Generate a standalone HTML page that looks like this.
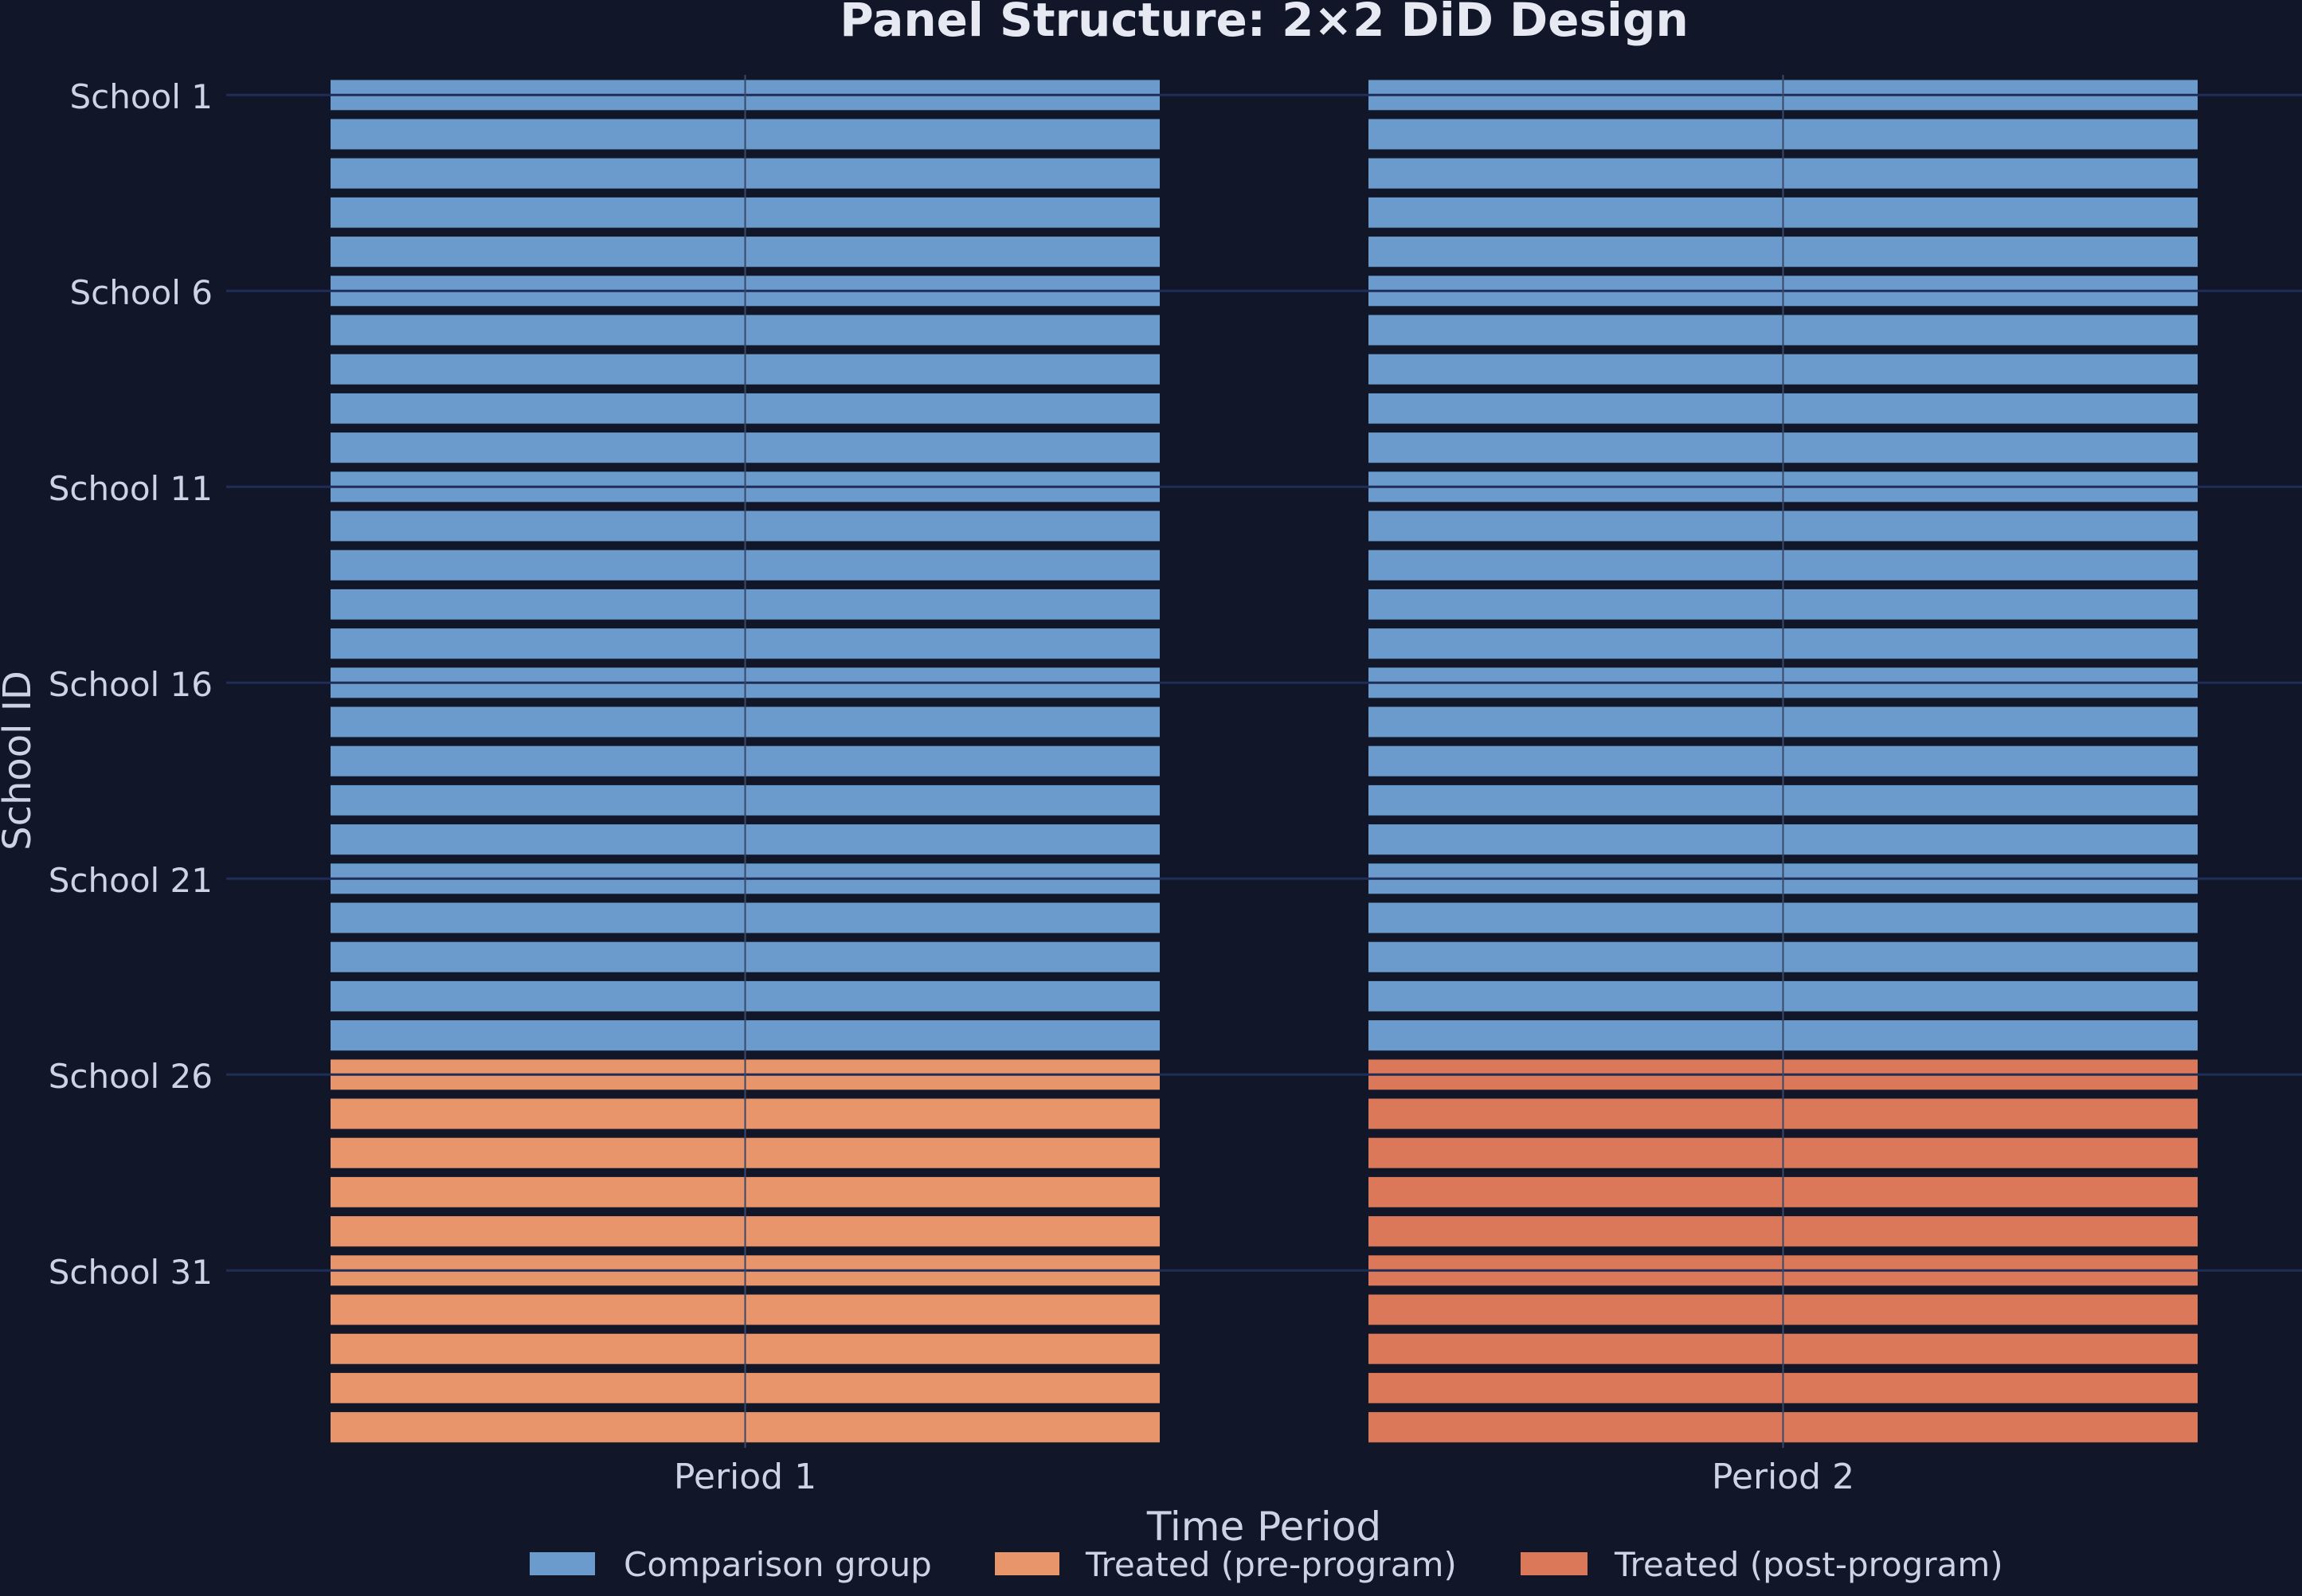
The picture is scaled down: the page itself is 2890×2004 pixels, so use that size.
<!DOCTYPE html>
<html><head><meta charset="utf-8"><style>
html,body{margin:0;padding:0;background:#111729;}
svg{display:block;}
text{font-family:"DejaVu Sans","Liberation Sans",sans-serif;fill:#cdd3e2;}
</style></head><body>
<svg width="2890" height="2004" viewBox="0 0 2890 2004" xmlns="http://www.w3.org/2000/svg">
<defs>
<pattern id="pb" patternUnits="userSpaceOnUse" x="0" y="100.3" width="2890" height="49.2"><rect x="0" y="0" width="2890" height="38" fill="#6b9bcc"/></pattern>
<pattern id="po" patternUnits="userSpaceOnUse" x="0" y="100.3" width="2890" height="49.2"><rect x="0" y="0" width="2890" height="38" fill="#e8956b"/></pattern>
<pattern id="pr" patternUnits="userSpaceOnUse" x="0" y="100.3" width="2890" height="49.2"><rect x="0" y="0" width="2890" height="38" fill="#db785a"/></pattern>
</defs>
<rect width="2890" height="2004" fill="#111729"/>
<text x="1587" y="45" text-anchor="middle" font-size="58" font-weight="bold" style="fill:#e6e9f2">Panel Structure: 2×2 DiD Design</text>
<rect x="415" y="100.3" width="1041" height="1229" fill="url(#pb)"/>
<rect x="1718" y="100.3" width="1041" height="1229" fill="url(#pb)"/>
<rect x="415" y="1330.3" width="1041" height="482" fill="url(#po)"/>
<rect x="1718" y="1330.3" width="1041" height="482" fill="url(#pr)"/>
<g stroke="#1f2e58" stroke-width="3">
<line x1="284" y1="119.3" x2="2890" y2="119.3"/>
<line x1="284" y1="365.3" x2="2890" y2="365.3"/>
<line x1="284" y1="611.3" x2="2890" y2="611.3"/>
<line x1="284" y1="857.3" x2="2890" y2="857.3"/>
<line x1="284" y1="1103.3" x2="2890" y2="1103.3"/>
<line x1="284" y1="1349.3" x2="2890" y2="1349.3"/>
<line x1="284" y1="1595.3" x2="2890" y2="1595.3"/>
</g>
<g stroke="#3a4868" stroke-width="2">
<line x1="935.5" y1="94" x2="935.5" y2="1818"/>
<line x1="2238.5" y1="94" x2="2238.5" y2="1818"/>
</g>
<g font-size="42" text-anchor="end">
<text x="267" y="136">School 1</text>
<text x="267" y="382">School 6</text>
<text x="267" y="628">School 11</text>
<text x="267" y="874">School 16</text>
<text x="267" y="1120">School 21</text>
<text x="267" y="1366">School 26</text>
<text x="267" y="1612">School 31</text>
</g>
<g font-size="44" text-anchor="middle">
<text x="935.5" y="1869">Period 1</text>
<text x="2238.5" y="1869">Period 2</text>
</g>
<text x="1587" y="1934" font-size="50" text-anchor="middle">Time Period</text>
<text transform="translate(38,955) rotate(-90)" font-size="48" text-anchor="middle">School ID</text>
<rect x="665" y="1949" width="82" height="29" fill="#6b9bcc"/>
<text x="783" y="1979" font-size="42">Comparison group</text>
<rect x="1249" y="1949" width="81" height="29" fill="#e8956b"/>
<text x="1363" y="1979" font-size="42">Treated (pre-program)</text>
<rect x="1909" y="1949" width="84" height="29" fill="#db785a"/>
<text x="2027" y="1979" font-size="42">Treated (post-program)</text>
</svg>
</body></html>
